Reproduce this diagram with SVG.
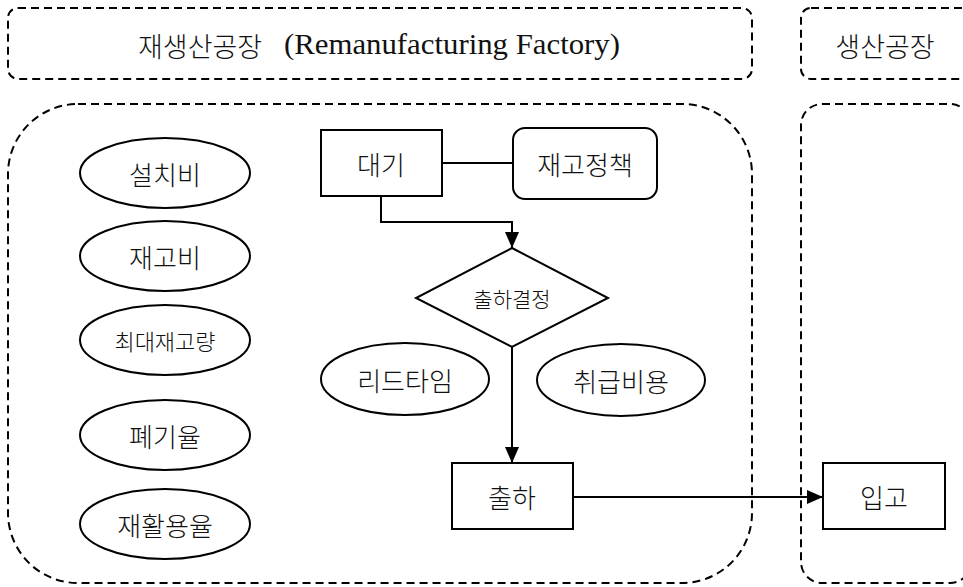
<svg xmlns="http://www.w3.org/2000/svg" width="963" height="587" viewBox="0 0 963 587">
  <defs>
    <style>
      .zone { fill: none; stroke: #000; stroke-width: 2; stroke-dasharray: 8 5; }
      .shape { fill: #fff; stroke: #000; stroke-width: 2; }
      .link { fill: none; stroke: #000; stroke-width: 2; }
      .ko { font-family: "Noto Sans CJK KR", sans-serif; font-weight: 300; fill: #111; text-anchor: middle; dominant-baseline: central; }
      .lat { font-family: "Liberation Serif", "Noto Sans CJK KR", serif; fill: #111; }
    </style>
    <marker id="arrow" viewBox="0 0 16 14" refX="16" refY="7" markerWidth="16" markerHeight="14" markerUnits="userSpaceOnUse" orient="auto">
      <path d="M0,0 L16,7 L0,14 z" fill="#000"/>
    </marker>
  </defs>

  <rect width="963" height="587" fill="#fff"/>

  <!-- swimlane headers -->
  <g id="lane-remanufacturing-header">
    <rect class="zone" x="8" y="8" width="744" height="71" rx="10"/>
    <text y="45" font-size="27"><tspan x="138" class="ko" style="text-anchor:start">재생산공장</tspan><tspan x="284" y="54" class="lat" font-size="30" textLength="336" lengthAdjust="spacingAndGlyphs">(Remanufacturing Factory)</tspan></text>
  </g>
  <g id="lane-production-header">
    <rect class="zone" x="801" y="8" width="170" height="71" rx="10"/>
    <text class="ko" x="885" y="45" font-size="27">생산공장</text>
  </g>

  <!-- swimlane bodies -->
  <g id="lane-remanufacturing">
    <rect class="zone" x="8" y="104" width="744" height="479" rx="70"/>
  </g>
  <g id="lane-production">
    <rect class="zone" x="801" y="104" width="170" height="479" rx="21"/>
  </g>

  <!-- connectors -->
  <g id="connectors">
    <line class="link" x1="442" y1="163" x2="513" y2="163"/>
    <polyline class="link" points="381,196 381,222 512,222 512,248" marker-end="url(#arrow)"/>
    <line class="link" x1="512" y1="347" x2="512" y2="463" marker-end="url(#arrow)"/>
    <line class="link" x1="573" y1="497" x2="823" y2="497" marker-end="url(#arrow)"/>
  </g>

  <!-- parameter ellipses -->
  <g id="setup-cost">
    <ellipse class="shape" cx="165" cy="173" rx="85" ry="35"/>
    <text class="ko" x="165" y="173" font-size="26">설치비</text>
  </g>
  <g id="inventory-cost">
    <ellipse class="shape" cx="165" cy="256" rx="85" ry="35"/>
    <text class="ko" x="165" y="256" font-size="26">재고비</text>
  </g>
  <g id="max-inventory">
    <ellipse class="shape" cx="165" cy="340" rx="85" ry="35"/>
    <text class="ko" x="165" y="340" font-size="22">최대재고량</text>
  </g>
  <g id="disposal-rate">
    <ellipse class="shape" cx="165" cy="435" rx="85" ry="35"/>
    <text class="ko" x="165" y="435" font-size="26">폐기율</text>
  </g>
  <g id="recycling-rate">
    <ellipse class="shape" cx="165" cy="524" rx="85" ry="35"/>
    <text class="ko" x="165" y="524" font-size="26">재활용율</text>
  </g>
  <g id="lead-time">
    <ellipse class="shape" cx="405" cy="379" rx="84" ry="36"/>
    <text class="ko" x="405" y="379" font-size="26">리드타임</text>
  </g>
  <g id="handling-cost">
    <ellipse class="shape" cx="621" cy="380" rx="84" ry="36"/>
    <text class="ko" x="621" y="380" font-size="26">취급비용</text>
  </g>

  <!-- process nodes -->
  <g id="wait">
    <rect class="shape" x="321" y="130" width="121" height="66"/>
    <text class="ko" x="381" y="163" font-size="26">대기</text>
  </g>
  <g id="inventory-policy">
    <rect class="shape" x="513" y="128" width="144" height="71" rx="12"/>
    <text class="ko" x="585" y="163" font-size="26">재고정책</text>
  </g>
  <g id="ship-decision">
    <polygon class="shape" points="512,248 608,298 512,347 416,298"/>
    <text class="ko" x="512" y="298" font-size="21">출하결정</text>
  </g>
  <g id="ship">
    <rect class="shape" x="452" y="463" width="121" height="66"/>
    <text class="ko" x="512" y="496" font-size="26">출하</text>
  </g>
  <g id="receive">
    <rect class="shape" x="823" y="463" width="122" height="66"/>
    <text class="ko" x="884" y="496" font-size="26">입고</text>
  </g>
</svg>
